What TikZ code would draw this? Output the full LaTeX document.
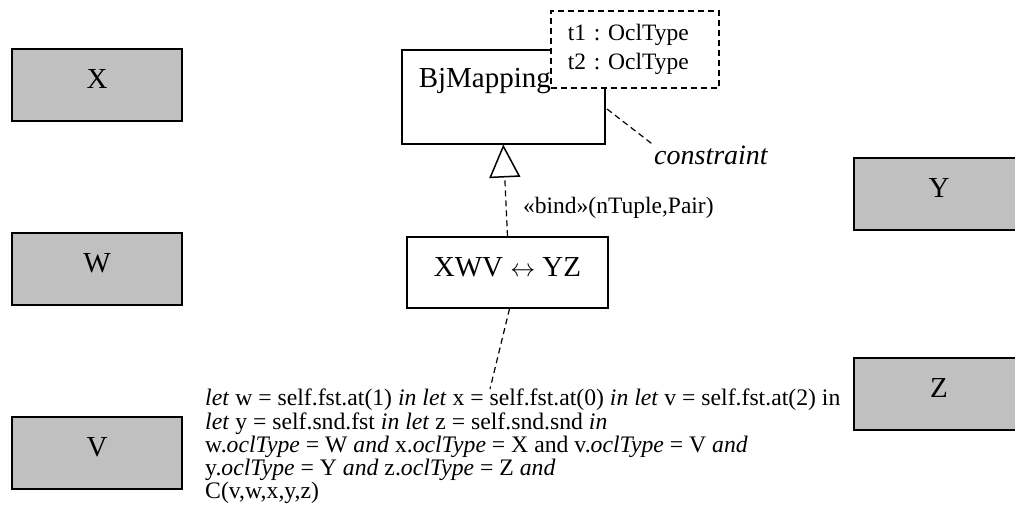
\documentclass[tikz,border=0pt]{standalone}
\usepackage{fontspec}
\setmainfont{Liberation Serif}
\usetikzlibrary{arrows.meta}
\definecolor{boxgray}{HTML}{C0C0C0}
\frenchspacing
\tikzset{
  x=1pt, y=-1pt,
  graybox/.style={draw=black, fill=boxgray, line width=2pt, minimum width=170pt, minimum height=72pt,
    inner sep=0pt, font=\fontsize{29}{32}\selectfont, text depth=12pt},
  classbox/.style={draw=black, fill=white, line width=1.5pt, inner sep=0pt},
  notebox/.style={draw=black, fill=white, line width=1.5pt, dash pattern=on 6pt off 4pt, inner sep=0pt},
  dashline/.style={line width=1.2pt, dash pattern=on 6pt off 4pt},
  lbl/.style={inner sep=0pt, font=\fontsize{23.5}{29}\selectfont},
}
\begin{document}
\begin{tikzpicture}
\useasboundingbox (0,0) rectangle (1015,520);
% gray boxes
\node[graybox] (X) at (97,85) {X};
\node[graybox] (W) at (97,269) {W};
\node[graybox] (V) at (97,453) {V};
\node[graybox] (Y) at (939,194) {Y};
\node[graybox] (Z) at (939,394) {Z};
% BjMapping class
\node[classbox, anchor=north west, align=left, font=\fontsize{29}{32}\selectfont,
      inner xsep=17pt, inner ysep=0pt, text width=169pt, text height=37.5pt, text depth=56.5pt] (bj) at (401,49) {BjMapping};
% template parameter box
\node[notebox, minimum width=168pt, minimum height=77pt, align=left, anchor=north west,
      font=\fontsize{23.5}{29}\selectfont, inner xsep=17pt, text width=134pt] (tp) at (550,10) {t1 : OclType\\t2 : OclType};
% constraint
\coordinate (c1) at (607,109);
\node[inner sep=0pt, anchor=west, font=\itshape\fontsize{28}{30}\selectfont] (cons) at (654,155) {constraint};
\draw[dashline] (c1) -- (cons.north west);
% bound class
\node[classbox, minimum width=201pt, minimum height=71pt, font=\fontsize{29}{32}\selectfont, text depth=12pt] (xwv) at (507.5,272.5) {XWV $\leftrightarrow$ YZ};
\draw[dashline, -{Triangle[open, width=31pt, length=33pt, line width=1.5pt]}] (xwv.north) -- (bj.south);
\node[lbl, anchor=west] (bind) at (523,208) {«bind»(nTuple,Pair)};
% OCL text
\node[inner sep=0pt, anchor=north west, align=left, font=\fontsize{23.7}{23.2}\selectfont] (ocl) at (205,389) {%
\textit{let} w = self.fst.at(1) \textit{in let} x = self.fst.at(0) \textit{in let} v = self.fst.at(2) in\\
\textit{let} y = self.snd.fst \textit{in let} z = self.snd.snd \textit{in}\\
w.\textit{oclType} = W \textit{and} x.\textit{oclType} = X and v.\textit{oclType} = V \textit{and}\\
y.\textit{oclType} = Y \textit{and} z.\textit{oclType} = Z \textit{and}\\
C(v,w,x,y,z)};
\coordinate (oclend) at (490,389);
\draw[dashline] ([xshift=2pt]xwv.south) -- (oclend);
\end{tikzpicture}
\end{document}
